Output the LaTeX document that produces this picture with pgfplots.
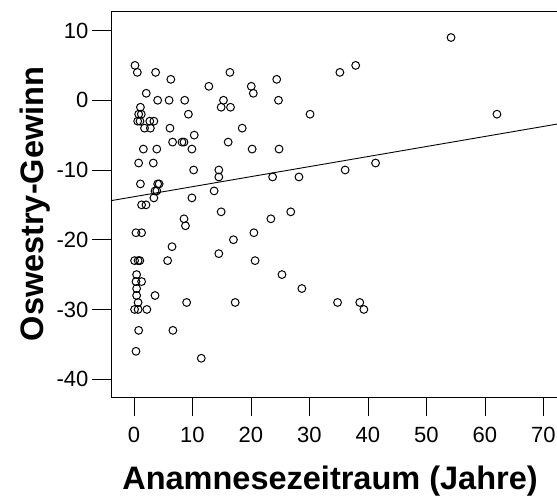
\documentclass[border=0pt]{standalone}
\usepackage{fontspec}
\setmainfont{Liberation Sans}
\usepackage{pgfplots}
\pgfplotsset{compat=1.18}

\begin{document}
\begin{tikzpicture}
\path[use as bounding box] (-111pt,-98.7pt) rectangle (446pt,397.3pt);
\begin{axis}[
  at={(0,0)}, anchor=south west,
  scale only axis, width=450pt, height=385.6pt,
  xmin=-3.93, xmax=73, ymin=-42.6, ymax=12.7,
  axis line style={line width=0.9pt},
  tick align=outside, major tick length=19pt,
  tick style={line width=0.9pt, black},
  xtick pos=bottom, ytick pos=left,
  xtick={0,10,...,70}, ytick={-40,-30,...,10},
  xticklabels={0,10,20,30,40,50,60,70},
  yticklabels={-40,-30,-20,-10,0,10},
  ticklabel style={font=\fontsize{22}{24}\selectfont},
  xticklabel style={yshift=-7pt},
  xlabel={Anamnesezeitraum (Jahre)},
  ylabel={Oswestry-Gewinn},
  every axis x label/.style={font=\fontsize{32.5}{34}\selectfont\bfseries,
    at={(axis description cs:0.4867,-0.2403)}, anchor=base},
  every axis y label/.style={font=\fontsize{32.5}{34}\selectfont\bfseries,
    at={(axis description cs:-0.15,0.5013)}, rotate=90, anchor=base},
]
% Patients: history length vs. improvement in Oswestry score
\addplot[only marks, mark=o, mark size=3.9pt, mark options={line width=1pt, black}]
coordinates {
(0.17,5) (0.57,4) (3.7,4) (6.3,3) (16.4,4) (2.1,1) (12.8,2) (20.05,2) (20.4,1)
(4.05,0) (6.0,0) (8.67,0) (15.3,0) (14.9,-1) (16.5,-1) (1.1,-1)
(0.8,-2) (1.25,-2) (0.63,-3) (1.03,-3) (2.7,-3) (3.4,-3) (9.3,-2)
(1.8,-4) (2.8,-4) (6.15,-4) (18.5,-4) (10.3,-5) (6.6,-6) (8.2,-6) (8.55,-6)
(9.9,-7) (16.1,-6) (20.2,-7) (1.6,-7) (3.9,-7) (0.8,-9) (3.3,-9)
(10.2,-10) (14.5,-10) (14.5,-11) (1.1,-12) (4.05,-12) (4.3,-12)
(3.9,-13) (3.6,-13) (13.7,-13) (3.4,-14) (9.9,-14) (1.3,-15) (2.05,-15)
(24.4,3) (24.7,0) (30.1,-2) (35.2,4) (37.9,5) (54.2,9) (62.05,-2)
(24.8,-7) (23.7,-11) (28.2,-11) (36.1,-10) (41.3,-9) (26.8,-16)
(14.9,-16) (8.55,-17) (8.8,-18) (0.34,-19) (1.3,-19) (20.5,-19) (17.0,-20)
(6.5,-21) (14.5,-22) (0.1,-23) (0.7,-23) (1.0,-23) (5.75,-23) (20.7,-23)
(0.45,-25) (0.34,-26) (1.3,-26) (0.45,-27) (3.6,-28) (0.45,-28) (0.7,-29)
(0.1,-30) (0.7,-30) (2.2,-30) (9.0,-29) (17.3,-29) (0.8,-33) (6.65,-33)
(0.34,-36) (11.5,-37)
(23.4,-17) (25.3,-25) (28.7,-27) (34.8,-29) (38.6,-29) (39.3,-30)
};
% Linear fit
\addplot[black, line width=0.9pt] coordinates {(-3.93,-14.40) (73,-3.32)};
\end{axis}
\end{tikzpicture}
\end{document}
